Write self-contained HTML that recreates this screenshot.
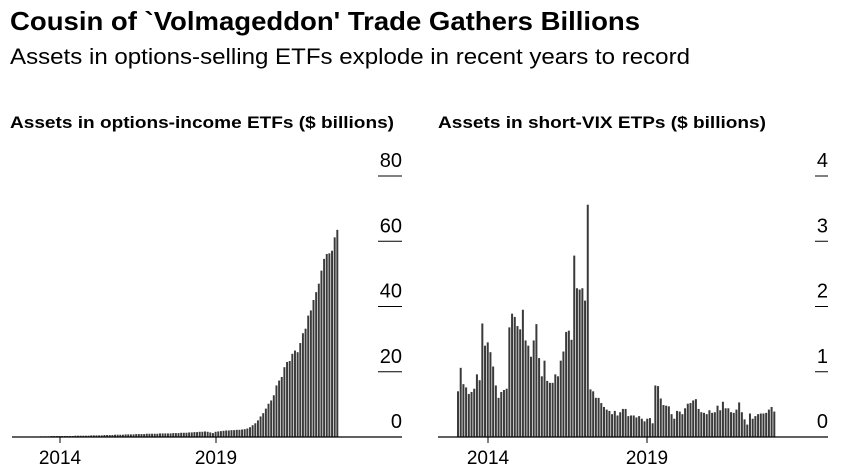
<!DOCTYPE html>
<html><head><meta charset="utf-8"><style>
html,body{margin:0;padding:0;background:#fff;}
svg{display:block;font-family:"Liberation Sans",Arial,sans-serif;}
</style></head><body>
<svg id="chart" width="855" height="475" viewBox="0 0 855 475">
<text x="10" y="30" font-size="26" font-weight="bold" fill="#000" textLength="630" lengthAdjust="spacingAndGlyphs">Cousin of `Volmageddon' Trade Gathers Billions</text>
<text x="10" y="64" font-size="22" fill="#000" textLength="680" lengthAdjust="spacingAndGlyphs">Assets in options-selling ETFs explode in recent years to record</text>
<text x="10" y="128" font-size="17" font-weight="bold" fill="#000" textLength="384" lengthAdjust="spacingAndGlyphs">Assets in options-income ETFs ($ billions)</text>
<text x="438" y="128" font-size="17" font-weight="bold" fill="#000" textLength="328" lengthAdjust="spacingAndGlyphs">Assets in short-VIX ETPs ($ billions)</text>
<g id="left"></g>
<g id="right"></g>
</svg>
<script>
const leftValues = [0.1,0.1,0.1,0.2,0.2,0.2,0.2,0.3,0.3,0.3,
0.3,0.3,0.3,0.3,0.3,0.3,0.4,0.4,0.4,0.4,
0.4,0.4,0.5,0.5,0.5,0.5,0.5,0.6,0.6,0.6,
0.6,0.7,0.7,0.7,0.7,0.8,0.8,0.8,0.8,0.9,
0.9,0.9,0.9,1.0,1.0,1.0,1.0,1.0,1.1,1.1,
1.1,1.1,1.1,1.2,1.2,1.2,1.3,1.3,1.3,1.4,
1.4,1.5,1.5,1.6,1.6,1.7,1.6,1.4,1.2,1.6,
1.7,1.8,1.9,2.0,2.0,2.1,2.1,2.2,2.2,2.3,
2.4,2.6,3.0,3.6,4.2,5.1,6.3,7.3,8.7,10.2,
11.2,12.8,15.8,17.3,18.4,21.4,23,23.3,25.5,26.5,
26,28.8,31.8,33.2,37.2,38.8,42,44.4,47,51,
54.6,56.1,56.3,57.1,61.2,63.5];
const rightValues = [0.70,1.06,0.81,0.76,0.66,0.69,0.74,0.96,0.87,1.74,
1.40,1.45,1.30,1.08,0.79,0.60,0.69,0.72,0.74,1.68,
1.89,1.84,1.70,1.65,1.95,1.48,1.40,1.23,1.48,1.73,
1.21,0.93,1.17,0.86,0.83,0.83,0.96,0.93,1.17,1.31,
1.61,1.63,1.49,2.78,2.28,2.26,2.28,2.09,3.56,0.73,
0.70,0.60,0.60,0.52,0.46,0.42,0.40,0.35,0.40,0.33,
0.38,0.43,0.43,0.32,0.33,0.33,0.30,0.32,0.28,0.24,
0.28,0.29,0.21,0.79,0.78,0.59,0.49,0.48,0.47,0.35,
0.28,0.40,0.39,0.35,0.44,0.51,0.52,0.56,0.58,0.43,
0.38,0.37,0.35,0.41,0.37,0.38,0.48,0.41,0.54,0.44,
0.44,0.38,0.37,0.42,0.53,0.38,0.27,0.19,0.36,0.28,
0.32,0.35,0.36,0.36,0.37,0.42,0.46,0.39];
const leftTicks = [0,20,40,60,80];
const rightTicks = [0,1,2,3,4];
const leftYears = ["2014","2019"];
const rightYears = ["2014","2019"];

const NS = "http://www.w3.org/2000/svg";
function mk(parent, tag, attrs){const e=document.createElementNS(NS,tag);for(const k in attrs)e.setAttribute(k,attrs[k]);parent.appendChild(e);return e;}

function drawPanel(g, values, ticks, years, cfg){
  const base = 437, top = 176;
  const maxT = ticks[ticks.length-1];
  const y = v => base - (v/maxT)*(base-top);
  const n = values.length;
  const step = (cfg.barEnd - cfg.barStart)/n;
  const x = i => cfg.barStart + i*step;
  values.forEach((v,i)=>{
    const r = mk(g,'rect',{x:x(i).toFixed(2),y:y(v).toFixed(2),width:(step-0.7).toFixed(2),height:(base-y(v)).toFixed(2),fill:'#3a3a3a'});
    
    
  });
  const axis = mk(g,'line',{x1:cfg.axisStart,x2:cfg.axisEnd,y1:base,y2:base,stroke:'#000','stroke-width':1.2});
  
  
  ticks.forEach(t=>{
    const yy=y(t);
    if(t!==0){
      const tl = mk(g,'line',{x1:cfg.tickX1,x2:cfg.axisEnd,y1:yy,y2:yy,stroke:'#000','stroke-width':1});
      
      
    }
    const tx = mk(g,'text',{x:cfg.axisEnd,y:yy-9,'font-size':20,'text-anchor':'end',fill:'#000'});
    tx.textContent = String(t);
    
    
  });
  years.forEach((yr,k)=>{
    const px = cfg.yearX[k];
    const tl = mk(g,'line',{x1:px,x2:px,y1:base,y2:base+6,stroke:'#000','stroke-width':1});
    
    
    const tx = mk(g,'text',{x:px,y:464,'font-size':19,'text-anchor':'middle',fill:'#000'});
    tx.textContent = yr;
    
    
  });
}
drawPanel(document.getElementById('left'), leftValues, leftTicks, leftYears,
  {prefix:'left', barStart:32, barEnd:339, axisStart:12, axisEnd:402, tickX1:378, yearX:[60,216]});
drawPanel(document.getElementById('right'), rightValues, rightTicks, rightYears,
  {prefix:'right', barStart:457, barEnd:776, axisStart:438, axisEnd:828, tickX1:815, yearX:[488,647]});
</script>
</body></html>
